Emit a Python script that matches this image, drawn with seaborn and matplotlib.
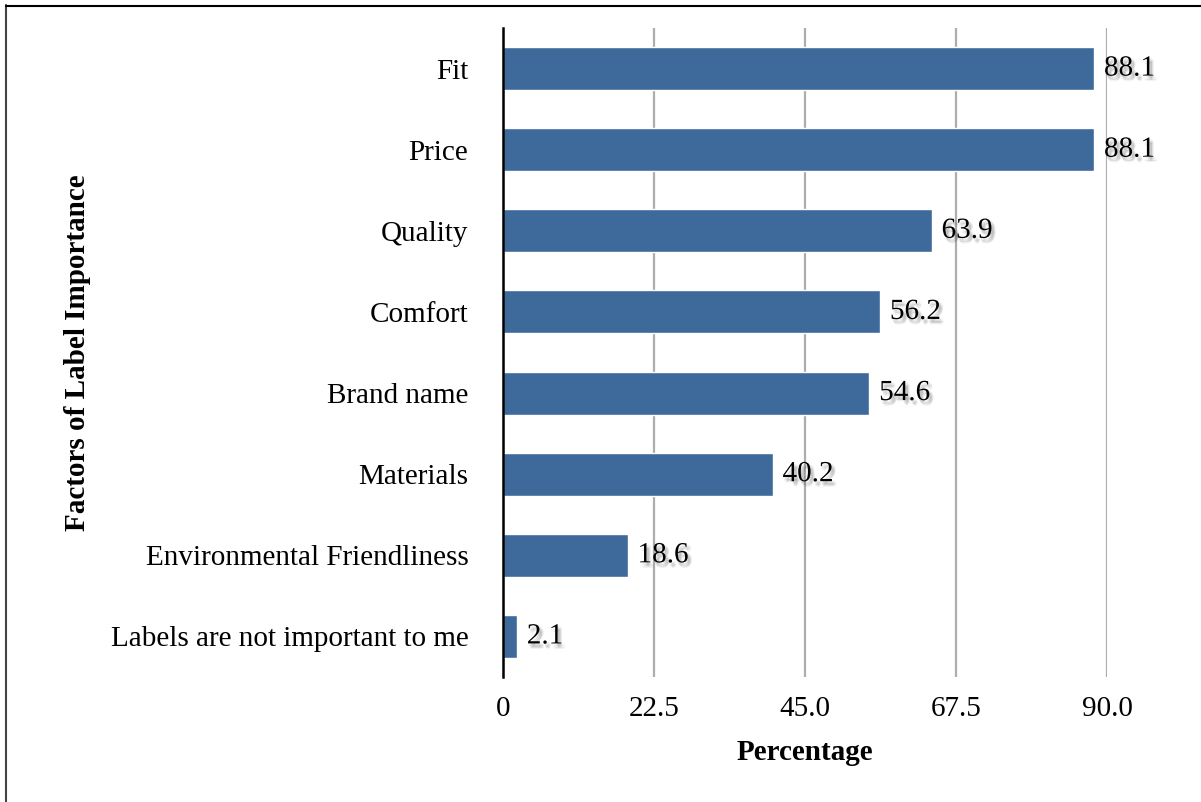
import matplotlib
matplotlib.use("Agg")
import matplotlib.pyplot as plt
import matplotlib.patheffects as pe
from matplotlib.lines import Line2D
import seaborn as sns
import pandas as pd

categories = ["Fit", "Price", "Quality", "Comfort", "Brand name", "Materials",
              "Environmental Friendliness", "Labels are not important to me"]
values = [88.1, 88.1, 63.9, 56.2, 54.6, 40.2, 18.6, 2.1]
x_ticks = [0, 22.5, 45.0, 67.5, 90.0]
x_tick_labels = ["0", "22.5", "45.0", "67.5", "90.0"]

sns.set_theme(style="white")
plt.rcParams["font.family"] = ["Liberation Serif", "DejaVu Serif"]

FS = 21

df = pd.DataFrame({"Factor": categories, "Percentage": values})

fig = plt.figure(figsize=(12.01, 8.02), dpi=100)
ax = fig.add_axes([503 / 1201, 1 - 677 / 802, (1107 - 503) / 1201, (677 - 28) / 802])

sns.barplot(data=df, x="Percentage", y="Factor", orient="h", color="#3D6A9B",
            saturation=1, width=0.53, ax=ax, zorder=3)

ax.set_xlim(0, 90)
ax.set_ylim(7.5, -0.5)
ax.set_xticks(x_ticks)
ax.set_xticklabels(x_tick_labels)
ax.xaxis.grid(True, color="#ADADAD", linewidth=1.6, zorder=0)
ax.yaxis.grid(False)
ax.set_axisbelow(True)
for s in ["top", "right", "bottom"]:
    ax.spines[s].set_visible(False)
ax.spines["left"].set_color("black")
ax.spines["left"].set_linewidth(1.8)
ax.spines["left"].set_zorder(4)
ax.tick_params(axis="x", length=0, pad=14, labelsize=FS, colors="black")
ax.tick_params(axis="y", length=0, pad=25, labelsize=FS, colors="black")

ax.set_xlabel("Percentage", fontsize=FS, fontweight="bold", labelpad=12, color="black")
ax.set_ylabel("Factors of Label Importance", fontsize=FS, fontweight="bold", color="black")
ax.yaxis.set_label_coords(-0.682, 0.5)

shadow = [pe.SimplePatchShadow(offset=(dx, dy), alpha=0.05, shadow_rgbFace="black")
          for dx, dy in [(1, -2), (2, -3), (3, -2), (2, -1), (1, -3), (3, -3), (2, -4)]]

for cont in ax.containers:
    labels = ax.bar_label(cont, labels=[f"{v:.1f}" for v in values], padding=7,
                          fontsize=FS, color="black")
    for t in labels:
        t.set_path_effects(shadow + [pe.Normal()])

# figure border (left and top)
fig.add_artist(Line2D([5.5 / 1201, 5.5 / 1201], [0, 1 - 5 / 802],
                      transform=fig.transFigure, color="#444444", linewidth=1.5))
fig.add_artist(Line2D([5.5 / 1201, 1], [1 - 5.5 / 802, 1 - 5.5 / 802],
                      transform=fig.transFigure, color="black", linewidth=1.5))

fig.savefig("out.png", dpi=100)
